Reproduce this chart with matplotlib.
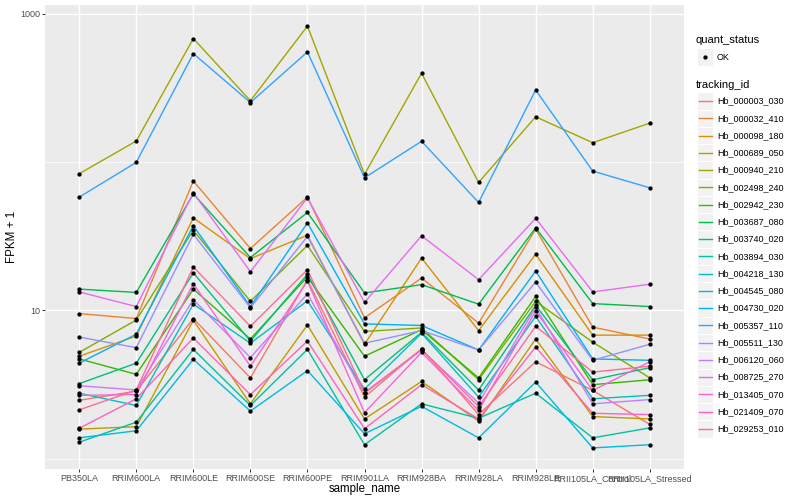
import numpy as np
import matplotlib.pyplot as plt
from matplotlib.patches import Rectangle
from matplotlib.lines import Line2D
from matplotlib.ticker import NullFormatter

# samples on the x axis
samples = ['PB350LA', 'RRIM600LA', 'RRIM600LE', 'RRIM600SE', 'RRIM600PE',
           'RRIM901LA', 'RRIM928BA', 'RRIM928LA', 'RRIM928LE',
           'RRII105LA_Control', 'RRII105LA_Stressed']

tracking_ids = ['Hb_000003_030', 'Hb_000032_410', 'Hb_000098_180', 'Hb_000689_050',
                'Hb_000940_210', 'Hb_002498_240', 'Hb_002942_230', 'Hb_003687_080',
                'Hb_003740_020', 'Hb_003894_030', 'Hb_004218_130', 'Hb_004545_080',
                'Hb_004730_020', 'Hb_005357_110', 'Hb_005511_130', 'Hb_006120_060',
                'Hb_008725_270', 'Hb_013405_070', 'Hb_021409_070', 'Hb_029253_010']

# FPKM + 1 per gene, one value per sample
hb_000003_030 = [2.47, 2.85, 8.8, 3.5, 16.1, 2.6, 5.5, 1.98, 4.5, 2.88, 1.70]
hb_000032_410 = [9.5, 8.8, 74.5, 26.1, 58, 8.9, 16.5, 8.2, 35.3, 7.7, 6.4]
hb_000098_180 = [4.9, 6.7, 42.0, 22.3, 32.1, 5.9, 22.5, 7.3, 23.9, 6.8, 6.8]
hb_000689_050 = [1.58, 1.64, 8.56, 2.34, 7.96, 1.85, 3.31, 1.79, 6.4, 1.92, 1.85]
hb_000940_210 = [83.4, 138.6, 681, 259, 826, 82.6, 397, 72.9, 202, 135, 183]
hb_002498_240 = [5.2, 8.6, 34.7, 11.5, 27.4, 7.2, 7.6, 3.4, 11.5, 6.1, 3.5]
hb_002942_230 = [4.7, 3.7, 13.9, 6.4, 16.8, 4.9, 7.4, 3.5, 12.4, 3.15, 3.4]
hb_003687_080 = [13.9, 13.2, 61, 22.7, 45.7, 13.1, 14.9, 11.0, 36.0, 11.1, 10.6]
hb_003740_020 = [3.2, 4.4, 17.9, 6.2, 17.5, 3.4, 7.1, 2.9, 10.8, 3.4, 4.1]
hb_003894_030 = [1.29, 1.76, 5.45, 2.28, 5.45, 1.24, 2.34, 1.87, 2.76, 1.38, 1.61]
hb_004218_130 = [2.76, 2.28, 11.0, 6.0, 11.6, 2.94, 7.0, 2.6, 9.1, 2.53, 2.67]
hb_004545_080 = [1.38, 1.54, 4.67, 2.09, 3.92, 1.47, 2.25, 1.38, 3.28, 1.18, 1.24]
hb_004730_020 = [4.4, 6.9, 37.2, 10.6, 38.9, 8.1, 7.9, 5.4, 18.4, 4.7, 4.6]
hb_005357_110 = [58, 99.5, 539, 252, 553, 78.3, 138, 53.4, 306, 86.9, 67]
hb_005511_130 = [6.6, 5.6, 32.6, 10.4, 31.5, 6.0, 7.3, 5.4, 15.5, 4.6, 5.9]
hb_006120_060 = [3.1, 2.9, 11.8, 4.8, 12.9, 2.75, 5.4, 2.37, 10.5, 2.34, 2.5]
hb_008725_270 = [13.3, 10.6, 62.1, 18.2, 57.4, 11.3, 31.8, 16.1, 41.7, 13.3, 15.0]
hb_013405_070 = [2.67, 2.7, 15.1, 4.2, 15.7, 2.04, 5.2, 2.11, 9.9, 2.88, 4.5]
hb_021409_070 = [1.60, 2.53, 6.5, 2.7, 6.2, 1.59, 3.15, 1.85, 5.65, 2.02, 1.98]
hb_029253_010 = [2.13, 2.9, 19.6, 7.8, 18.8, 2.79, 5.45, 2.24, 7.8, 3.83, 4.2]

values = [hb_000003_030, hb_000032_410, hb_000098_180, hb_000689_050, hb_000940_210,
          hb_002498_240, hb_002942_230, hb_003687_080, hb_003740_020, hb_003894_030,
          hb_004218_130, hb_004545_080, hb_004730_020, hb_005357_110, hb_005511_130,
          hb_006120_060, hb_008725_270, hb_013405_070, hb_021409_070, hb_029253_010]

# ggplot default hue palette for 20 levels
colors = ['#F8766D', '#EA8331', '#D89000', '#C09B00', '#A3A500', '#7CAE00', '#39B600',
          '#00BB4E', '#00BF7D', '#00C1A3', '#00BFC4', '#00BAE0', '#00B0F6', '#35A2FF',
          '#9590FF', '#C77CFF', '#E76BF3', '#FA62DB', '#FF62BC', '#FF6C91']

plt.rcParams['font.family'] = ['Liberation Sans', 'DejaVu Sans']

W, H = 800, 500
fig = plt.figure(figsize=(8, 5), dpi=100)
ax = fig.add_axes([45 / W, 1 - 469 / H, (684 - 45) / W, (469 - 5) / H])
ax.set_facecolor('#EBEBEB')

x = np.arange(len(samples))
for vals, col in zip(values, colors):
    ax.plot(x, vals, color=col, lw=1.0, zorder=2)
for vals in values:
    ax.plot(x, vals, 'o', color='black', ms=3.1, mec='none', zorder=3)

ax.set_yscale('log')
allv = np.concatenate([np.array(v, dtype=float) for v in values])
lo, hi = np.log10(allv.min()), np.log10(allv.max())
pad = (hi - lo) * 0.05
ax.set_ylim(10 ** (lo - pad), 10 ** (hi + pad))
ax.set_xlim(-0.6, len(samples) - 0.4)

ax.set_yticks([10, 1000])
ax.set_yticklabels(['10', '1000'])
ax.set_yticks([1, 100], minor=True)
ax.yaxis.set_minor_formatter(NullFormatter())
ax.set_xticks(x)
ax.set_xticklabels(samples)

ax.tick_params(which='major', length=2.2, width=0.7, color='#333333',
               labelsize=6.5, labelcolor='#4D4D4D', pad=1.5)
ax.tick_params(which='minor', length=0)
ax.grid(which='major', color='white', lw=1.0)
ax.grid(which='minor', axis='y', color='white', lw=0.5)
ax.set_axisbelow(True)
for s in ax.spines.values():
    s.set_visible(False)

ax.set_xlabel('sample_name', fontsize=8.3, labelpad=0)
ax.set_ylabel('FPKM + 1', fontsize=8.3, labelpad=1)

# legends, drawn by hand in ggplot style
def fx(px):
    return px / W

def fy(py):
    return 1 - py / H

fig.text(fx(696), fy(40), 'quant_status', fontsize=8, va='center', ha='left')
fig.patches.append(Rectangle((fx(697), fy(65.5)), 16 / W, 17 / H, transform=fig.transFigure,
                             facecolor='#F2F2F2', edgecolor='white', lw=0.8))
fig.lines.append(Line2D([fx(705)], [fy(57)], marker='o', ms=3.1, color='black',
                        mec='none', transform=fig.transFigure))
fig.text(fx(717), fy(57), 'OK', fontsize=6.5, va='center', ha='left')

fig.text(fx(696), fy(85), 'tracking_id', fontsize=8, va='center', ha='left')
step = 17.26
for i, (tid, col) in enumerate(zip(tracking_ids, colors)):
    yc = 101 + i * step
    fig.patches.append(Rectangle((fx(697), fy(yc + step / 2)), 16 / W, step / H,
                                 transform=fig.transFigure, facecolor='#F2F2F2',
                                 edgecolor='white', lw=0.8))
    fig.lines.append(Line2D([fx(698.5), fx(711.5)], [fy(yc), fy(yc)], color=col, lw=1.0,
                            transform=fig.transFigure))
    fig.text(fx(717), fy(yc), tid, fontsize=6.5, va='center', ha='left')

fig.savefig('out.png', dpi=100)
